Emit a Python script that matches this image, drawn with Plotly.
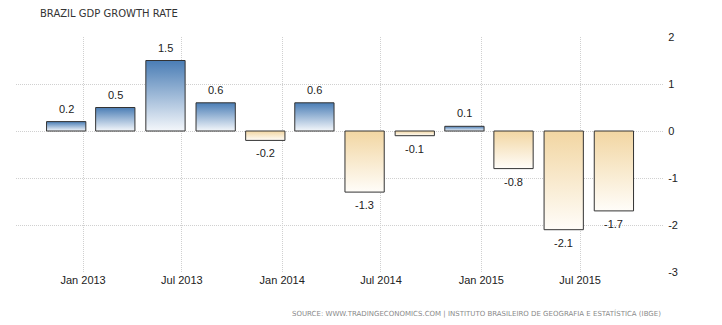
import plotly.graph_objects as go
import pandas as pd

# ---- data ----
dates = ["2012-12-01", "2013-03-01", "2013-06-01", "2013-09-01", "2013-12-01", "2014-03-01",
         "2014-06-01", "2014-09-01", "2014-12-01", "2015-03-01", "2015-06-01", "2015-09-01"]
values = [0.2, 0.5, 1.5, 0.6, -0.2, 0.6, -1.3, -0.1, 0.1, -0.8, -2.1, -1.7]
tick_dates = ["2013-01-01", "2013-07-01", "2014-01-01", "2014-07-01", "2015-01-01", "2015-07-01"]
tick_labels = ["Jan 2013", "Jul 2013", "Jan 2014", "Jul 2014", "Jan 2015", "Jul 2015"]
y_ticks = [2, 1, 0, -1, -2, -3]
y_tick_labels = ["2", "1", "0", "-1", "-2", "-3"]

title = "BRAZIL GDP GROWTH RATE"
source = "SOURCE: WWW.TRADINGECONOMICS.COM | INSTITUTO BRASILEIRO DE GEOGRAFIA E ESTATÍSTICA (IBGE)"

POS_TOP = "#4a7db5"
POS_BOT = "#f4f7fb"
NEG_TOP = "#f2d6a2"
NEG_BOT = "#fffdf9"
EDGE = "#333333"
GRID = "#d0d0d0"
half = pd.Timedelta(days=36)

fig = go.Figure()
for d, v in zip(dates, values):
    c = pd.Timestamp(d)
    x0, x1 = c - half, c + half
    xs = [x0, x0, x1, x1, x0]
    ys = [0, v, v, 0, 0]
    cs = [[0, POS_BOT], [1, POS_TOP]] if v >= 0 else [[0, NEG_BOT], [1, NEG_TOP]]
    fig.add_trace(go.Scatter(
        x=xs, y=ys, mode="lines", fill="toself",
        fillgradient=dict(type="vertical", colorscale=cs),
        line=dict(color=EDGE, width=1), hoverinfo="skip", showlegend=False))

annotations = []
for d, v in zip(dates, values):
    annotations.append(dict(
        x=d, y=v, xref="x", yref="y", text=f"{v:.1f}", showarrow=False,
        xanchor="center", yanchor="middle", yshift=13 if v >= 0 else -13,
        font=dict(family="Liberation Sans, Arial", size=11, color="#222")))

W, H = 722, 325
l, r, t, b = 16, 59, 37, 53
pw, ph = W - l - r, H - t - b
def px(xp): return (xp - l) / pw
def py(yp): return 1 - (yp - t) / ph

annotations.append(dict(text=title, x=px(38), y=py(14), xref="paper", yref="paper",
                        showarrow=False, xanchor="left", yanchor="middle",
                        font=dict(family="DejaVu Sans", size=10, color="#333")))
annotations.append(dict(text=source, x=px(663), y=py(313), xref="paper", yref="paper",
                        showarrow=False, xanchor="right", yanchor="middle",
                        font=dict(family="DejaVu Sans", size=7, color="#8a8a8a")))

fig.update_layout(
    width=W, height=H,
    margin=dict(l=l, r=r, t=t, b=b),
    paper_bgcolor="white", plot_bgcolor="white",
    font=dict(family="Liberation Sans, Arial", size=11, color="#222"),
    xaxis=dict(type="date", range=["2012-08-31", "2015-11-30"],
               tickvals=tick_dates, ticktext=tick_labels,
               showgrid=True, gridcolor=GRID, griddash="1px,1px", gridwidth=1,
               zeroline=False, showline=False, ticks="",
               tickfont=dict(size=11, color="#222")),
    yaxis=dict(range=[-3, 2], side="right", tickvals=y_ticks, ticktext=y_tick_labels,
               showgrid=True, gridcolor=GRID, griddash="1px,1px", gridwidth=1,
               zeroline=False, showline=False, ticks="outside", ticklen=2, tickcolor="white",
               tickfont=dict(size=11, color="#222")),
    annotations=annotations,
)

fig.write_html("out.html")
